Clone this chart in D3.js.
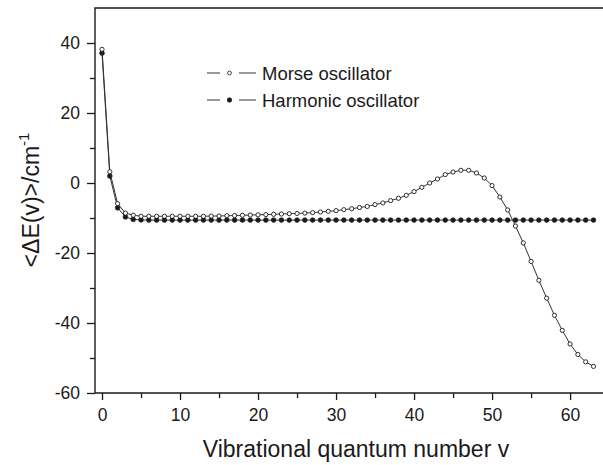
<!DOCTYPE html>
<html>
<head>
<meta charset="utf-8">
<script src="https://cdn.jsdelivr.net/npm/d3@7"></script>
<style>
  html, body { margin: 0; padding: 0; background: #fff; }
  svg { display: block; font-family: "Liberation Sans", Arial, sans-serif; }
</style>
</head>
<body>
<svg id="chart" width="603" height="465"></svg>
<script>
// quantum number v = 0 .. 63
const levels = d3.range(0, 64)

const morseValues = [
  38.2, 3.2, -5.9, -8.6, -9.2, -9.5, -9.5, -9.5, -9.5, -9.5,
  -9.5, -9.5, -9.5, -9.5, -9.45, -9.43, -9.35, -9.3, -9.23, -9.15,
  -9.1, -9.03, -8.95, -8.86, -8.77, -8.7, -8.6, -8.46, -8.29, -8.09,
  -7.89, -7.62, -7.35, -7.0, -6.7, -6.17, -5.71, -5.03, -4.37, -3.51,
  -2.46, -1.23, 0.0, 1.14, 2.4, 3.14, 3.63, 3.63, 2.86, 1.43,
  -0.74, -4.0, -7.7, -12.3, -17.1, -22.4, -27.8, -32.9, -37.8, -42.1,
  -46.0, -49.0, -51.1, -52.4
]

const harmonicValues = [
  37.1, 2.0, -7.1, -9.7, -10.4, -10.55, -10.6, -10.6, -10.6, -10.6,
  -10.6, -10.6, -10.6, -10.6, -10.6, -10.6, -10.6, -10.6, -10.6, -10.6,
  -10.6, -10.6, -10.6, -10.6, -10.6, -10.6, -10.6, -10.6, -10.6, -10.6,
  -10.6, -10.6, -10.6, -10.6, -10.6, -10.6, -10.6, -10.6, -10.6, -10.6,
  -10.6, -10.6, -10.6, -10.6, -10.6, -10.6, -10.6, -10.6, -10.6, -10.6,
  -10.6, -10.6, -10.6, -10.6, -10.6, -10.6, -10.6, -10.6, -10.6, -10.6,
  -10.6, -10.6, -10.6, -10.6
]

const xTicks = [0, 10, 20, 30, 40, 50, 60]
const xMinorTicks = [5, 15, 25, 35, 45, 55]
const yTicks = [-60, -40, -20, 0, 20, 40]
const yMinorTicks = [-50, -30, -10, 10, 30]

const seriesNames = ["Morse oscillator", "Harmonic oscillator"]

const config = {
  left: 95,
  right: 603,
  top: 8,
  bottom: 393,
  ink: "#1a1a1a",
  lineColor: "#333"
}

const svg = d3.select("#chart")

const xScale = d3.scaleLinear().domain([-0.9, 64.22]).range([config.left, config.right])
const yScale = d3.scaleLinear().domain([-60, 50]).range([config.bottom, config.top])

// plain hyphen for negatives, like the original figure
const plainFormat = d => String(d)

function drawAxes () {
  const xAxis = d3.axisBottom(xScale)
      .tickValues(xTicks)
      .tickSize(7)
      .tickPadding(9)
      .tickFormat(plainFormat)
  const xMinor = d3.axisBottom(xScale)
      .tickValues(xMinorTicks)
      .tickSize(5)
      .tickFormat("")

  const yAxis = d3.axisLeft(yScale)
      .tickValues(yTicks)
      .tickSize(8)
      .tickPadding(7)
      .tickFormat(plainFormat)
  const yMinor = d3.axisLeft(yScale)
      .tickValues(yMinorTicks)
      .tickSize(5)
      .tickFormat("")

  const gx = svg.append("g")
      .attr("transform", `translate(0, ${config.bottom})`)
  gx.call(xAxis)
  gx.append("g").call(xMinor)

  const gy = svg.append("g")
      .attr("transform", `translate(${config.left}, 0)`)
  gy.call(yAxis)
  gy.append("g").call(yMinor)

  svg.selectAll(".domain").remove()
  svg.selectAll(".tick line")
      .attr("stroke", config.ink)
      .attr("stroke-width", 1.3)
  svg.selectAll(".tick text")
      .attr("fill", config.ink)
      .style("font-size", "17.5px")

  // frame: left, bottom and top edges
  svg.append("path")
      .attr("d", `M${config.right},${config.top}H${config.left}V${config.bottom}H${config.right}`)
      .attr("fill", "none")
      .attr("stroke", config.ink)
      .attr("stroke-width", 1.4)

  svg.append("text")
      .attr("x", 356)
      .attr("y", 457)
      .attr("text-anchor", "middle")
      .attr("fill", config.ink)
      .style("font-size", "23px")
      .text("Vibrational quantum number v")

  const yTitle = svg.append("text")
      .attr("transform", "translate(39, 200) rotate(-90)")
      .attr("text-anchor", "middle")
      .attr("fill", config.ink)
      .style("font-size", "23px")
  yTitle.append("tspan").text("<ΔE(v)>/cm")
  yTitle.append("tspan")
      .attr("dy", -10)
      .style("font-size", "15px")
      .text("-1")
}

function drawSeries (values, filled) {
  const pts = levels.map((v, i) => [v, values[i]])
  const line = d3.line()
      .x(d => xScale(d[0]))
      .y(d => yScale(d[1]))

  svg.append("path")
      .datum(pts)
      .attr("d", line)
      .attr("fill", "none")
      .attr("stroke", config.lineColor)
      .attr("stroke-width", 1)

  svg.append("g")
    .selectAll("circle")
    .data(pts)
    .join("circle")
      .attr("cx", d => xScale(d[0]))
      .attr("cy", d => yScale(d[1]))
      .attr("r", filled ? 2.4 : 2.1)
      .attr("fill", filled ? config.ink : "#fff")
      .attr("stroke", config.ink)
      .attr("stroke-width", filled ? 0.6 : 0.9)
}

function drawLegend () {
  const rows = [
    {name: seriesNames[0], filled: false, y: 73},
    {name: seriesNames[1], filled: true, y: 100}
  ]
  const g = svg.append("g")
  rows.forEach(r => {
    g.append("line")
        .attr("x1", 207).attr("x2", 220)
        .attr("y1", r.y).attr("y2", r.y)
        .attr("stroke", config.lineColor)
    g.append("line")
        .attr("x1", 239).attr("x2", 256)
        .attr("y1", r.y).attr("y2", r.y)
        .attr("stroke", config.lineColor)
    g.append("circle")
        .attr("cx", 229.5).attr("cy", r.y)
        .attr("r", r.filled ? 2.2 : 1.9)
        .attr("fill", r.filled ? config.ink : "#fff")
        .attr("stroke", config.ink)
        .attr("stroke-width", 0.8)
    g.append("text")
        .attr("x", 262)
        .attr("y", r.y + 6.5)
        .attr("fill", config.ink)
        .style("font-size", "18.5px")
        .text(r.name)
  })
}

drawAxes()
drawSeries(harmonicValues, true)
drawSeries(morseValues, false)
drawLegend()
</script>
</body>
</html>
